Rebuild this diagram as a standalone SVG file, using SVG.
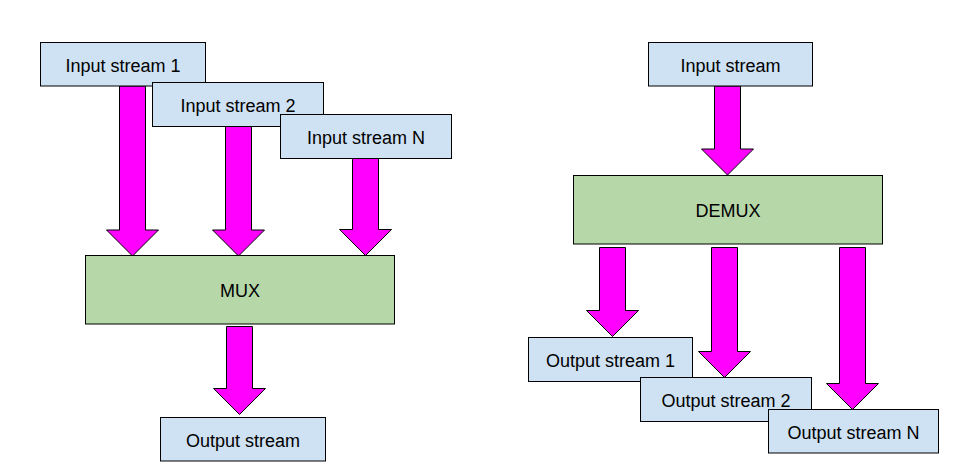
<svg xmlns="http://www.w3.org/2000/svg" width="960" height="471" viewBox="0 0 960 471">
<style>
.stream{fill:#cfe2f3;stroke:#000;stroke-width:1}
.proc{fill:#b6d7a8;stroke:#000;stroke-width:1}
.arrow{fill:#ff00ff;stroke:#000;stroke-width:1;stroke-linejoin:miter}
text{font-family:"Liberation Sans",Arial,sans-serif;font-size:18px;fill:#000;text-anchor:middle}
</style>
<rect width="960" height="471" fill="#fff"/>
<g id="connectors">
<polygon class="arrow" points="119.5,86 145.5,86 145.5,230 158.5,230 132.5,256 106.5,230 119.5,230"/>
<polygon class="arrow" points="225.5,126.5 251.5,126.5 251.5,230 264.5,230 238.5,256 212.5,230 225.5,230"/>
<polygon class="arrow" points="352.5,158.5 378.5,158.5 378.5,229.5 391.5,229.5 365.5,255.5 339.5,229.5 352.5,229.5"/>
<polygon class="arrow" points="226.5,326.5 252.5,326.5 252.5,388.5 265.5,388.5 239.5,414.5 213.5,388.5 226.5,388.5"/>
<polygon class="arrow" points="714.5,86 740.5,86 740.5,149 753.5,149 727.5,175 701.5,149 714.5,149"/>
<polygon class="arrow" points="599.5,247.5 625.5,247.5 625.5,310.5 638.5,310.5 612.5,336.5 586.5,310.5 599.5,310.5"/>
<polygon class="arrow" points="711.5,247.5 737.5,247.5 737.5,351.5 750.5,351.5 724.5,377.5 698.5,351.5 711.5,351.5"/>
<polygon class="arrow" points="839.5,247.5 865.5,247.5 865.5,383.5 878.5,383.5 852.5,409.5 826.5,383.5 839.5,383.5"/>
</g>
<g id="input1"><rect class="stream" x="40.5" y="42.5" width="165" height="43.5"/><text x="123" y="71.5">Input stream 1</text></g>
<g id="input2"><rect class="stream" x="152.5" y="82.5" width="171" height="44"/><text x="238" y="111.5">Input stream 2</text></g>
<g id="inputN"><rect class="stream" x="280.5" y="114.5" width="171" height="44"/><text x="366" y="143.5">Input stream N</text></g>
<g id="mux"><rect class="proc" x="85.5" y="255.5" width="309" height="68.5"/><text x="240" y="296.5">MUX</text></g>
<g id="output"><rect class="stream" x="160.5" y="417.5" width="165" height="43.5"/><text x="243" y="446.5">Output stream</text></g>
<g id="input"><rect class="stream" x="648.5" y="42.5" width="164" height="43.5"/><text x="730.5" y="71.5">Input stream</text></g>
<g id="demux"><rect class="proc" x="573.5" y="175.5" width="309" height="68.5"/><text x="728" y="216.5">DEMUX</text></g>
<g id="output1"><rect class="stream" x="528.5" y="337.5" width="164" height="44"/><text x="610.5" y="366.5">Output stream 1</text></g>
<g id="output2"><rect class="stream" x="640.5" y="377.5" width="171" height="44"/><text x="726" y="406.5">Output stream 2</text></g>
<g id="outputN"><rect class="stream" x="768.5" y="409.5" width="170" height="43.5"/><text x="853.5" y="438.5">Output stream N</text></g>
</svg>
